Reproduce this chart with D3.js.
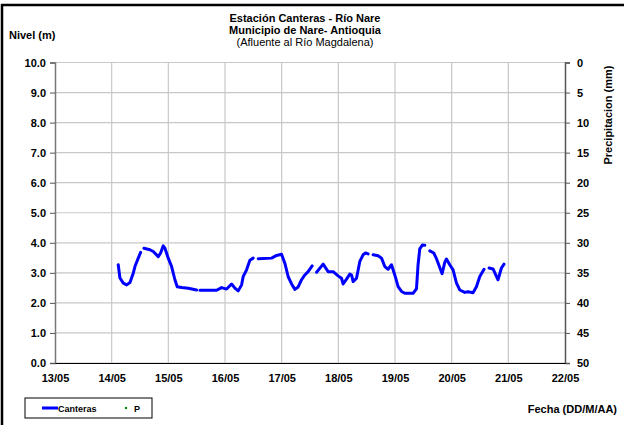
<!DOCTYPE html>
<html><head><meta charset="utf-8">
<script src="https://cdn.jsdelivr.net/npm/d3@7"></script>
<style>
body{margin:0;background:#fff;}
svg text{font-family:"Liberation Sans",Arial,sans-serif;}
</style></head>
<body><svg id="c" width="624" height="425"></svg>
<script>
// Days since 13/05 00:00 (null = gap in the record)
const dias = [1.116,1.146,1.205,1.265,1.323,1.381,1.411,1.469,1.511,null,
 1.570,1.675,1.734,1.822,1.864,1.910,1.940,1.998,2.058,2.116,2.157,2.235,2.351,2.499,null,
 2.557,2.852,2.940,3.028,3.116,3.175,3.233,3.293,3.321,3.381,3.439,3.497,null,
 3.586,3.822,3.910,3.998,4.056,4.115,4.175,4.233,4.291,4.351,4.409,4.467,4.538,null,
 4.616,4.732,4.820,4.908,4.996,5.056,5.085,5.145,5.203,5.233,5.261,5.321,5.379,5.437,5.480,5.526,null,
 5.614,5.702,5.762,5.820,5.878,5.938,5.996,6.055,6.115,6.173,6.319,6.379,6.407,6.437,6.485,6.526,null,
 6.614,6.684,6.732,6.790,6.831,6.878,6.908,6.966,7.025,7.085,7.143,7.231,7.289,7.377,7.437,7.496,7.571,null,
 7.660,7.730,7.818,7.878,7.924];
const nivel = [3.27,2.83,2.66,2.60,2.68,2.99,3.21,3.49,3.68,null,
 3.82,3.77,3.71,3.54,3.66,3.90,3.82,3.49,3.21,2.77,2.54,2.51,2.49,2.43,null,
 2.42,2.42,2.51,2.46,2.63,2.49,2.40,2.60,2.88,3.10,3.42,3.49,null,
 3.47,3.49,3.58,3.62,3.32,2.87,2.63,2.45,2.53,2.77,2.93,3.04,3.23,null,
 3.02,3.29,3.04,3.04,2.90,2.82,2.63,2.79,2.96,2.93,2.71,2.82,3.38,3.60,3.66,3.63,null,
 3.60,3.57,3.49,3.21,3.12,3.27,2.93,2.54,2.38,2.32,2.32,2.47,3.27,3.80,3.93,3.92,null,
 3.73,3.66,3.47,3.18,2.97,3.35,3.46,3.27,3.10,2.66,2.43,2.35,2.37,2.34,2.54,2.88,3.12,null,
 3.16,3.13,2.77,3.16,3.29];
const precipitacion = []; // P series: no values shown
const xTickLabels = ["13/05","14/05","15/05","16/05","17/05","18/05","19/05","20/05","21/05","22/05"];
const yLeftTicks = [0,1,2,3,4,5,6,7,8,9,10];
const yRightTicks = [0,5,10,15,20,25,30,35,40,45,50];
const titleLines = ["Estación Canteras - Río Nare","Municipio de Nare- Antioquia","(Afluente al Río Magdalena)"];

const svg = d3.select("#c");
const L=55,R=565,T=62.5,B=363;
const x = d3.scaleLinear().domain([0,9]).range([L,R]);
const y = d3.scaleLinear().domain([0,10]).range([B,T]);
const yR = d3.scaleLinear().domain([0,50]).range([T,B]);

// frame
svg.append("line").attr("x1",2).attr("x2",2).attr("y1",4).attr("y2",425).attr("stroke","#000").attr("stroke-width",2.5);
svg.append("line").attr("x1",1).attr("x2",624).attr("y1",5).attr("y2",5).attr("stroke","#000").attr("stroke-width",2.5);

// grid
const g = svg.append("g");
g.selectAll(".hg").data(yLeftTicks).join("line")
 .attr("x1",L).attr("x2",R).attr("y1",d=>y(d)).attr("y2",d=>y(d)).attr("stroke","#c8c8c8").attr("stroke-width",1.2);
g.selectAll(".vg").data(d3.range(1,9)).join("line")
 .attr("x1",d=>x(d)).attr("x2",d=>x(d)).attr("y1",T).attr("y2",B).attr("stroke","#c8c8c8").attr("stroke-width",1.2);

// axes
const fmt = d3.format(".1f");
const ax = svg.append("g").attr("transform",`translate(${L},0)`)
 .call(d3.axisLeft(y).tickValues(yLeftTicks).tickFormat(fmt).tickSize(5).tickPadding(4));
ax.select(".domain").attr("stroke","#777").attr("stroke-width",1.5);
ax.selectAll(".tick line").attr("stroke","#555");
ax.selectAll("text").attr("font-size",11).attr("font-weight","bold").attr("fill","#000");

const axr = svg.append("g").attr("transform",`translate(${R},0)`)
 .call(d3.axisRight(yR).tickValues(yRightTicks).tickSize(5).tickPadding(7));
axr.select(".domain").attr("stroke","#555").attr("stroke-width",1.5);
axr.selectAll(".tick line").attr("stroke","#555");
axr.selectAll("text").attr("font-size",11).attr("font-weight","bold").attr("fill","#000");

const axb = svg.append("g").attr("transform",`translate(0,${B})`)
 .call(d3.axisBottom(x).tickValues(d3.range(0,10)).tickFormat(i=>xTickLabels[i]).tickSize(0).tickPadding(11));
axb.select(".domain").attr("stroke","#000").attr("stroke-width",1.2);
axb.selectAll("text").attr("font-size",11).attr("font-weight","bold").attr("fill","#000");

// line
const pts = dias.map((d,i)=>({d:d,v:nivel[i]}));
const line = d3.line().defined(p=>p.d!==null && p.v!==null).x(p=>x(p.d)).y(p=>y(p.v)).curve(d3.curveLinear);
svg.append("path").datum(pts).attr("d",line).attr("fill","none").attr("stroke","#0000ff")
 .attr("stroke-width",3).attr("stroke-linejoin","round").attr("stroke-linecap","round");

svg.selectAll(".pp").data(precipitacion).join("circle").attr("cx",p=>x(p.d)).attr("cy",p=>yR(p.v)).attr("r",1.5).attr("fill","#008000");

// titles
svg.selectAll(".tt").data(titleLines).join("text")
 .attr("x",305).attr("y",(d,i)=>22+i*12).attr("text-anchor","middle")
 .attr("font-size",11).attr("font-weight",(d,i)=>i<2?"bold":"normal").text(d=>d);
svg.append("text").attr("x",9).attr("y",39).attr("font-size",11).attr("font-weight","bold").text("Nivel (m)");
svg.append("text").attr("transform","translate(612,115) rotate(-90)").attr("text-anchor","middle")
 .attr("font-size",11).attr("font-weight","bold").text("Precipitacion (mm)");
svg.append("text").attr("x",617).attr("y",413).attr("text-anchor","end").attr("font-size",11).attr("font-weight","bold").text("Fecha (DD/M/AA)");

// legend
const lg = svg.append("g");
lg.append("rect").attr("x",25).attr("y",398).attr("width",127).attr("height",20).attr("fill","#fff").attr("stroke","#000").attr("stroke-width",1);
lg.append("line").attr("x1",42).attr("x2",58).attr("y1",408).attr("y2",408).attr("stroke","#0000ff").attr("stroke-width",3);
lg.append("text").attr("x",58).attr("y",412).attr("font-size",9).attr("font-weight","bold").text("Canteras");
lg.append("circle").attr("cx",126).attr("cy",408).attr("r",1.2).attr("fill","#008000");
lg.append("text").attr("x",134).attr("y",412).attr("font-size",9).attr("font-weight","bold").text("P");
</script></body></html>
